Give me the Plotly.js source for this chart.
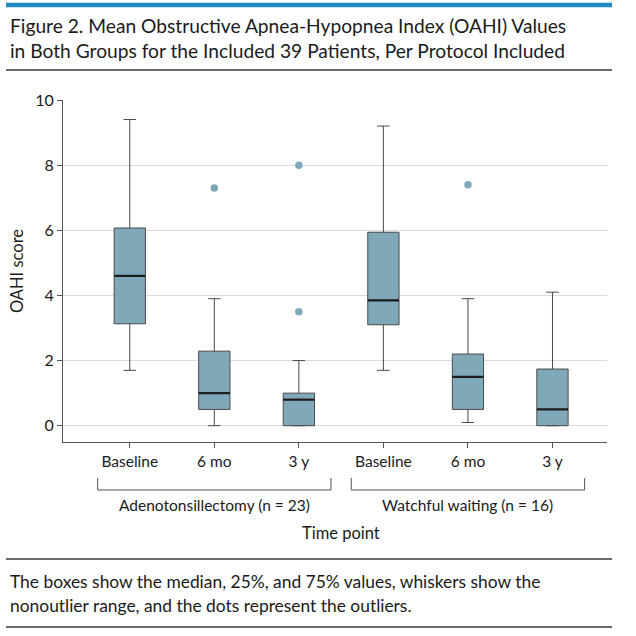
<!DOCTYPE html>
<html>
<head>
<meta charset="utf-8">
<script src="https://cdn.plot.ly/plotly-3.0.1.min.js"></script>
<style>
html,body{margin:0;padding:0;background:#fff;}
#chart{width:636px;height:636px;}
</style>
</head>
<body>
<div id="chart"></div>
<script>
// ---- data ----
const timeLabels = ["Baseline", "6 mo", "3 y", "Baseline", "6 mo", "3 y"];
const groupLabels = ["Adenotonsillectomy (n = 23)", "Watchful waiting (n = 16)"];
const lowerWhisker = [1.7, 0.0, 0.0, 1.7, 0.1, 0.0];
const q1Values     = [3.13, 0.5, 0.0, 3.1, 0.5, 0.0];
const medianValues = [4.6, 1.0, 0.8, 3.85, 1.5, 0.5];
const q3Values     = [6.07, 2.29, 1.0, 5.94, 2.2, 1.74];
const upperWhisker = [9.4, 3.9, 2.0, 9.2, 3.9, 4.1];
const outlierIndex = [1, 2, 2, 4];
const outlierValues = [7.3, 8.0, 3.5, 7.4];
const yTicks = [0, 2, 4, 6, 8, 10];

// ---- layout helpers (pixel -> paper) ----
const W = 636, H = 636;
const mL = 63, mR = 29, mT = 100, mB = 194;
const pw = W - mL - mR, ph = H - mT - mB;
const px = x => (x - mL) / pw;
const py = y => (H - mB - y) / ph;

const FONT = "Lato, 'Liberation Sans', Arial, sans-serif";
const boxFill = "#7fa8b8";
const boxLine = "#4a4a4a";
const boxW = 0.37;
const xs = timeLabels.map((_, i) => i);

const traces = [];
traces.push({
  type: "box",
  x: xs,
  q1: q1Values,
  median: medianValues,
  q3: q3Values,
  lowerfence: lowerWhisker,
  upperfence: upperWhisker,
  width: boxW,
  whiskerwidth: 0.4,
  boxpoints: false,
  fillcolor: boxFill,
  line: {color: boxLine, width: 1},
  hoverinfo: "skip",
  showlegend: false
});
// median overlay (thicker)
const mx = [], my = [];
medianValues.forEach((m, i) => {
  mx.push(i - boxW / 2, i + boxW / 2, null);
  my.push(m, m, null);
});
traces.push({
  type: "scatter", mode: "lines", x: mx, y: my,
  line: {color: "#1c1c1c", width: 2.2}, hoverinfo: "skip", showlegend: false
});
traces.push({
  type: "scatter", mode: "markers",
  x: outlierIndex, y: outlierValues,
  marker: {color: boxFill, size: 7.5},
  hoverinfo: "skip", showlegend: false
});

const shapes = [];
shapes.push({type: "line", xref: "paper", yref: "paper", x0: px(6), x1: px(612), y0: py(5), y1: py(5),
  line: {color: "#1d8ac4", width: 4.5}});
shapes.push({type: "line", xref: "paper", yref: "paper", x0: px(6), x1: px(612), y0: py(70), y1: py(70),
  line: {color: "#3a3a3a", width: 1.5}});
shapes.push({type: "line", xref: "paper", yref: "paper", x0: px(6), x1: px(612), y0: py(559), y1: py(559),
  line: {color: "#3a3a3a", width: 1.5}});
shapes.push({type: "line", xref: "paper", yref: "paper", x0: px(6), x1: px(612), y0: py(627), y1: py(627),
  line: {color: "#3a3a3a", width: 1.5}});
const groupCenters = [1, 4];
const half = 1.38;
groupCenters.forEach(c => {
  const yt = py(478), yb = py(490);
  shapes.push({type: "path", xref: "x", yref: "paper",
    path: `M ${c - half} ${yt} L ${c - half} ${yb} L ${c + half} ${yb} L ${c + half} ${yt}`,
    line: {color: "#555", width: 1}});
});

const annotations = [];
annotations.push({xref: "paper", yref: "paper", x: px(8), y: py(25), xanchor: "left", yanchor: "middle",
  text: "Figure 2. Mean Obstructive Apnea-Hypopnea Index (OAHI) Values", showarrow: false,
  font: {family: FONT, size: 19.2, color: "#1a1a1a"}});
annotations.push({xref: "paper", yref: "paper", x: px(8), y: py(51), xanchor: "left", yanchor: "middle",
  text: "in Both Groups for the Included 39 Patients, Per Protocol Included", showarrow: false,
  font: {family: FONT, size: 19.2, color: "#1a1a1a"}});
annotations.push({xref: "paper", yref: "paper", x: px(8), y: py(581), xanchor: "left", yanchor: "middle",
  text: "The boxes show the median, 25%, and 75% values, whiskers show the", showarrow: false,
  font: {family: FONT, size: 17.4, color: "#1a1a1a"}});
annotations.push({xref: "paper", yref: "paper", x: px(8), y: py(605), xanchor: "left", yanchor: "middle",
  text: "nonoutlier range, and the dots represent the outliers.", showarrow: false,
  font: {family: FONT, size: 17.4, color: "#1a1a1a"}});
groupCenters.forEach((c, i) => {
  annotations.push({xref: "x", yref: "paper", x: c, y: py(505), xanchor: "center", yanchor: "middle",
    text: groupLabels[i], showarrow: false, font: {family: FONT, size: 15.5, color: "#1a1a1a"}});
});
annotations.push({xref: "x", yref: "paper", x: 2.5, y: py(533), xanchor: "center", yanchor: "middle",
  text: "Time point", showarrow: false, font: {family: FONT, size: 16.5, color: "#1a1a1a"}});

const layout = {
  width: W, height: H,
  margin: {l: mL, r: mR, t: mT, b: mB, pad: 0},
  paper_bgcolor: "#fff", plot_bgcolor: "#fff",
  showlegend: false,
  font: {family: FONT, color: "#1a1a1a"},
  xaxis: {
    range: [-0.79, 5.645], tickvals: xs, ticktext: timeLabels,
    showgrid: false, zeroline: false, showline: true, linecolor: "#555", linewidth: 1,
    ticks: "outside", ticklen: 5, tickcolor: "#555",
    tickfont: {family: FONT, size: 15.5, color: "#1a1a1a"}, fixedrange: true
  },
  yaxis: {
    range: [-0.5, 10], tickvals: yTicks,
    showgrid: true, gridcolor: "#dcdcdc", gridwidth: 1, zeroline: false,
    showline: true, linecolor: "#555", linewidth: 1,
    ticks: "outside", ticklen: 5, tickcolor: "#555",
    tickfont: {family: FONT, size: 16, color: "#1a1a1a"},
    title: {text: "OAHI score", font: {family: FONT, size: 16.5, color: "#1a1a1a"}, standoff: 7},
    fixedrange: true
  },
  shapes: shapes,
  annotations: annotations
};

Plotly.newPlot("chart", traces, layout, {staticPlot: true, displayModeBar: false});
</script>
</body>
</html>
